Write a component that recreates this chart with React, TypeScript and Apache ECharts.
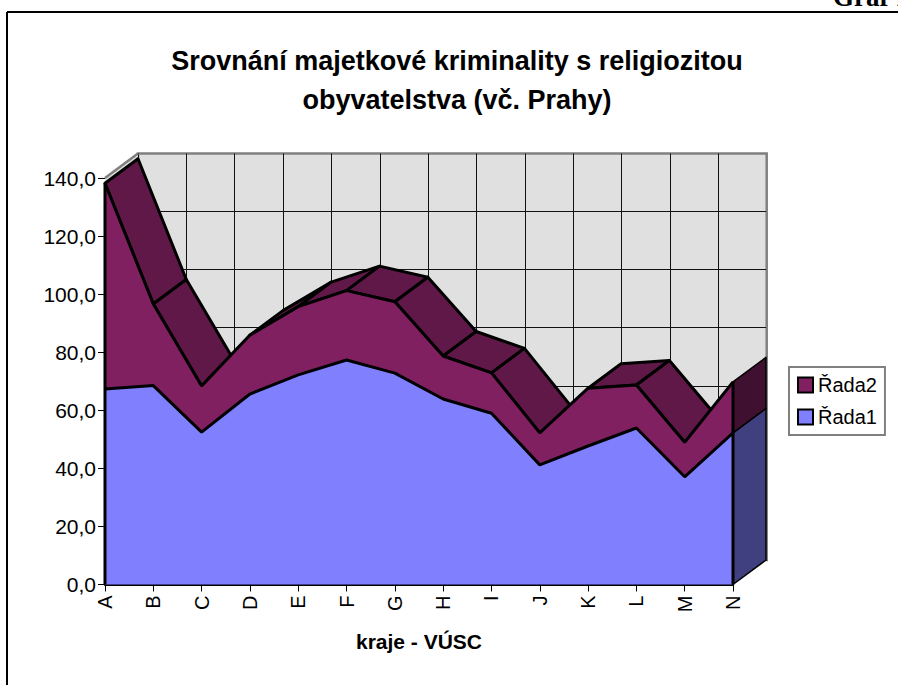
import React, { useEffect, useRef } from "react";
import * as echarts from "echarts";

const categories = ["A","B","C","D","E","F","G","H","I","J","K","L","M","N"];
const rada1 = [67.3,68.5,52.5,65.6,72.2,77.3,72.8,63.9,59.0,41.2,47.7,53.9,37.1,52.2];
const rada2 = [70.9,28.1,15.9,20.3,23.5,23.9,24.6,14.8,13.9,11.0,19.9,14.8,11.9,17.6];
const yTicks = { min: 0, max: 140, interval: 20 };

const L = 105, T = 178, W = 628, H = 406.5, DX = 33, DY = -24.5;
const FONT = "'Liberation Sans', Arial, sans-serif";
const top = rada1.map((v, i) => v + rada2[i]);
const C = { r1: "#8080FF", r2: "#802060", top: "#601848", side2: "#401030", side1: "#404080", wall: "#E0E0E0", gray: "#808080" };

const poly = (points: number[][], fill: string, lw = 3, stroke = "#000") => ({
  type: "polygon",
  shape: { points },
  style: { fill, stroke, lineWidth: lw, lineJoin: "round" },
});

function renderDepth(params: any, api: any) {
  const i = params.dataIndex;
  const back = (p: number[]) => [p[0] + DX, p[1] + DY];
  if (i === 0) {
    const a = api.coord([0, yTicks.max]);
    const b = api.coord([0, top[0]]);
    return {
      type: "group",
      children: [
        poly([a, back(a), back(b), b], C.wall, 0, "none"),
        { type: "line", shape: { x1: a[0], y1: a[1], x2: a[0] + DX, y2: a[1] + DY }, style: { stroke: C.gray, lineWidth: 2.5 } },
      ],
    };
  }
  const p0 = api.coord([i - 1, top[i - 1]]);
  const p1 = api.coord([i, top[i]]);
  const dx = p1[0] - p0[0], dy = p1[1] - p0[1];
  const facesUp = dx * DY - dy * DX < 0;
  if (!facesUp) return { type: "group", children: [] };
  return poly([p0, p1, back(p1), back(p0)], C.top);
}

function renderEdges(params: any, api: any) {
  const i = params.dataIndex;
  if (i !== 0 && i !== categories.length - 1) return { type: "group", children: [] };
  const z = api.coord([i, 0]);
  const m = api.coord([i, rada1[i]]);
  const t = api.coord([i, top[i]]);
  const back = (p: number[]) => [p[0] + DX, p[1] + DY];
  const edge = { type: "line", shape: { x1: z[0], y1: z[1], x2: t[0], y2: t[1] }, style: { stroke: "#000", lineWidth: 3 } };
  if (i === 0) return edge;
  return {
    type: "group",
    children: [
      poly([z, back(z), back(m), m], C.side1, 1.5),
      poly([m, back(m), back(t), t], C.side2, 1.5),
      edge,
    ],
  };
}

export default function App() {
  const ref = useRef<HTMLDivElement>(null);
  useEffect(() => {
    const chart = echarts.init(ref.current!, undefined, { renderer: "svg" });
    const wallGridY = Array.from({ length: 8 }, (_, k) => (k === 7 ? C.gray : "#111"));
    const wallGridX = categories.map((_, k) => (k === categories.length - 1 ? C.gray : "#111"));
    chart.setOption({
      animation: false,
      backgroundColor: "#fff",
      textStyle: { fontFamily: FONT },
      title: {
        text: "Srovnání majetkové kriminality s religiozitou\nobyvatelstva (vč. Prahy)",
        left: 452, top: 36, textAlign: "center",
        textStyle: { fontFamily: FONT, fontSize: 27, fontWeight: "bold", color: "#000", lineHeight: 39 },
      },
      legend: {
        data: ["Řada2", "Řada1"], orient: "vertical", left: 789, top: 367, icon: "rect",
        itemWidth: 15, itemHeight: 15, itemGap: 12, padding: [8, 8, 8, 8],
        backgroundColor: "#fff", borderColor: C.gray, borderWidth: 2,
        itemStyle: { borderColor: "#000", borderWidth: 2 },
        textStyle: { fontFamily: FONT, fontSize: 20, color: "#000" },
      },
      grid: [
        { left: L, top: T, width: W, height: H, show: false },
        { left: L + DX, top: T + DY, width: W + 0.7, height: H, show: true, backgroundColor: C.wall, borderColor: C.gray, borderWidth: 2.5 },
      ],
      xAxis: [
        {
          type: "category", gridIndex: 0, data: categories, boundaryGap: false,
          axisLine: { lineStyle: { color: "#000", width: 2 } },
          axisTick: { length: 7, lineStyle: { color: "#000", width: 1 } },
          axisLabel: { interval: 0, rotate: 90, fontFamily: FONT, fontSize: 20, color: "#000", margin: 11 },
          name: "kraje - VÚSC", nameLocation: "middle", nameGap: 46,
          nameTextStyle: { fontFamily: FONT, fontSize: 21, fontWeight: "bold", color: "#000" },
        },
        {
          type: "category", gridIndex: 1, data: categories, boundaryGap: false,
          axisLine: { show: false }, axisTick: { show: false }, axisLabel: { show: false },
          splitLine: { show: true, interval: 0, lineStyle: { color: wallGridX, width: 1 } },
        },
      ],
      yAxis: [
        {
          type: "value", gridIndex: 0, ...yTicks,
          axisLine: { show: false },
          axisTick: { show: true, length: 7, lineStyle: { color: "#000", width: 1 } },
          axisLabel: { fontFamily: FONT, fontSize: 21, color: "#000", margin: 9, formatter: (v: number) => v.toFixed(1).replace(".", ",") },
          splitLine: { show: false },
        },
        {
          type: "value", gridIndex: 1, ...yTicks,
          axisLine: { show: false }, axisTick: { show: false }, axisLabel: { show: false },
          splitLine: { show: true, lineStyle: { color: wallGridY, width: 1 } },
        },
      ],
      series: [
        {
          type: "custom", name: "hloubka", xAxisIndex: 0, yAxisIndex: 0, z: 3, silent: true, clip: false,
          renderItem: renderDepth, data: categories.map((_, i) => [i, top[i]]),
          encode: { x: 0, y: 1 },
        },
        {
          name: "Řada1", type: "line", stack: "s", xAxisIndex: 0, yAxisIndex: 0, z: 5, symbol: "none", silent: true,
          data: rada1, itemStyle: { color: C.r1 }, areaStyle: { color: C.r1, opacity: 1 },
          lineStyle: { color: "#000", width: 3 },
        },
        {
          name: "Řada2", type: "line", stack: "s", xAxisIndex: 0, yAxisIndex: 0, z: 4, symbol: "none", silent: true,
          data: rada2, itemStyle: { color: C.r2 }, areaStyle: { color: C.r2, opacity: 1 },
          lineStyle: { color: "#000", width: 3 },
        },
        {
          type: "custom", name: "hrany", xAxisIndex: 0, yAxisIndex: 0, z: 6, silent: true, clip: false,
          renderItem: renderEdges, data: categories.map((_, i) => [i, top[i]]),
          encode: { x: 0, y: 1 },
        },
      ],
      graphic: [
        { type: "line", shape: { x1: 7, y1: 12, x2: 898, y2: 12 }, style: { stroke: "#000", lineWidth: 2 } },
        { type: "line", shape: { x1: 7, y1: 12, x2: 7, y2: 685 }, style: { stroke: "#000", lineWidth: 2 } },
        { type: "text", x: 833, y: 10, style: { text: "Graf 1", fill: "#000", font: "bold 27px 'Liberation Serif', serif", align: "left", verticalAlign: "bottom" } },
      ],
    });
    return () => chart.dispose();
  }, []);
  return <div ref={ref} style={{ position: "fixed", left: 0, top: 0, width: 898, height: 685 }} />;
}
